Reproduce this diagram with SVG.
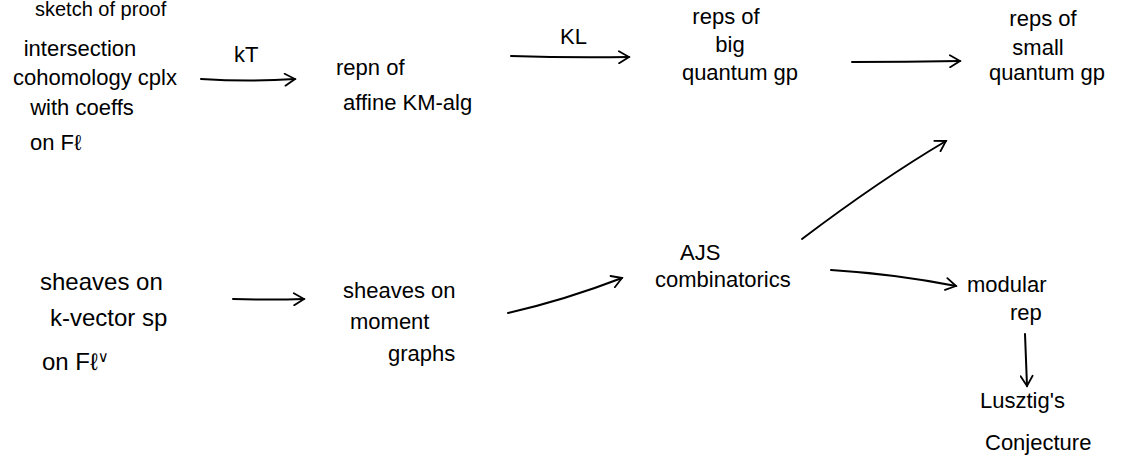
<svg xmlns="http://www.w3.org/2000/svg" width="1140" height="468" viewBox="0 0 1140 468">
<style>
text{font-family:"Liberation Sans","DejaVu Sans",sans-serif;font-size:22px;fill:#000}
.c{text-anchor:middle}
.b{font-size:24px}
.e{fill:none;stroke:#000;stroke-width:2;stroke-linecap:round}
</style>
<defs>
<marker id="ah" viewBox="0 0 14 14" refX="12" refY="7" markerWidth="14" markerHeight="14" markerUnits="userSpaceOnUse" orient="auto">
<polyline points="2,1 12,7 2,13" fill="none" stroke="#000" stroke-width="1.8" stroke-linecap="round"/>
</marker>
</defs>
<rect width="1140" height="468" fill="#fff"/>
<text x="35" y="16" style="font-size:20px">sketch   of   proof</text>
<g id="n-ic">
<text class="c" x="80" y="56">intersection</text>
<text class="c" x="95" y="85">cohomology cplx</text>
<text class="c" x="82" y="115">with coeffs</text>
<text x="30" y="150">on Fℓ</text>
</g>
<g id="n-km">
<text x="336" y="75">repn of</text>
<text x="343" y="110">affine KM-alg</text>
</g>
<g id="n-big">
<text class="c" x="726" y="24">reps of</text>
<text class="c" x="730" y="52">big</text>
<text class="c" x="740" y="80">quantum gp</text>
</g>
<g id="n-small">
<text class="c" x="1043" y="26">reps of</text>
<text class="c" x="1038" y="55">small</text>
<text class="c" x="1047" y="80">quantum gp</text>
</g>
<g id="n-kv">
<text class="b" x="40" y="290">sheaves on</text>
<text class="b" x="50" y="326">k-vector sp</text>
<text class="b" x="42" y="370">on  Fℓ<tspan baseline-shift="super" font-size="15">∨</tspan></text>
</g>
<g id="n-mg">
<text x="343" y="298">sheaves on</text>
<text x="350" y="329">moment</text>
<text x="388" y="361">graphs</text>
</g>
<g id="n-ajs">
<text x="680" y="260">AJS</text>
<text x="655" y="287">combinatorics</text>
</g>
<g id="n-mod">
<text x="967" y="292">modular</text>
<text x="1010" y="320">rep</text>
</g>
<g id="n-lus">
<text x="980" y="408">Lusztig's</text>
<text x="985" y="450">Conjecture</text>
</g>
<g id="edges">
<path class="e" d="M201,79 Q250,82 295,79" marker-end="url(#ah)"/>
<text x="234" y="62">kT</text>
<path class="e" d="M511,56 Q570,58 629,57" marker-end="url(#ah)"/>
<text x="560" y="44">KL</text>
<path class="e" d="M852,62 Q905,62 960,61" marker-end="url(#ah)"/>
<path class="e" d="M233,299 Q270,300 304,299" marker-end="url(#ah)"/>
<path class="e" d="M508,313 Q565,300 622,278" marker-end="url(#ah)"/>
<path class="e" d="M802,239 Q880,180 946,141" marker-end="url(#ah)"/>
<path class="e" d="M831,270 Q895,274 956,286" marker-end="url(#ah)"/>
<path class="e" d="M1025,334 Q1026,360 1027,386" marker-end="url(#ah)"/>
</g>
</svg>
